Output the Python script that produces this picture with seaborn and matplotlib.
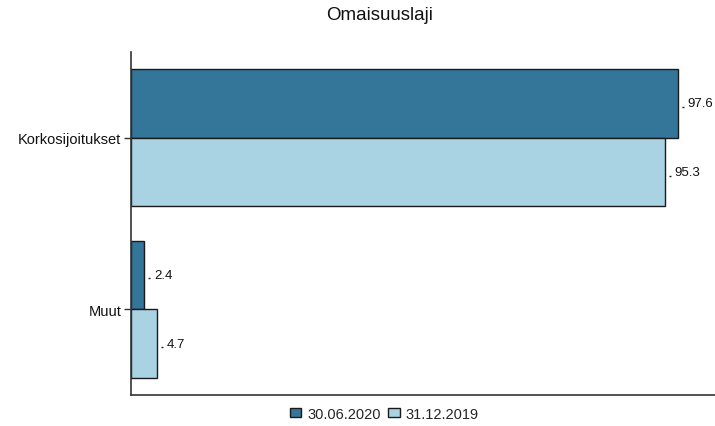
import matplotlib
matplotlib.use("Agg")
import matplotlib.pyplot as plt
import seaborn as sns
import pandas as pd

categories = ["Korkosijoitukset", "Muut"]
series_names = ["30.06.2020", "31.12.2019"]
values_2020 = [97.6, 2.4]
values_2019 = [95.3, 4.7]
title = "Omaisuuslaji"
colors = ["#337699", "#A9D3E3"]

df = pd.DataFrame({
    "cat": categories * 2,
    "series": [series_names[0]] * 2 + [series_names[1]] * 2,
    "value": values_2020 + values_2019,
})

sns.set_theme(style="white")
plt.rcParams["font.family"] = ["Liberation Sans", "DejaVu Sans"]

fig = plt.figure(figsize=(7.15, 4.27), dpi=100)
ax = fig.add_axes([131 / 715, 1 - 396 / 427, (715 - 131) / 715, (396 - 53) / 427])

sns.barplot(data=df, y="cat", x="value", hue="series", orient="h",
            palette=colors, saturation=1, width=0.8, edgecolor="#1a1a1a",
            linewidth=1.0, ax=ax, legend=True)

for cont in ax.containers:
    ax.bar_label(cont, labels=[f"{v:.1f}" for v in cont.datavalues],
                 padding=7, fontsize=9.5, color="#111111")
    for v, rect in zip(cont.datavalues, cont.patches):
        yc = rect.get_y() + rect.get_height() / 2
        ax.annotate("", xy=(v, yc), xytext=(4, 0), textcoords="offset points",
                    xycoords="data")
        ax.plot([v], [yc], marker="_", markersize=2, color="#222222",
                transform=ax.transData + matplotlib.transforms.ScaledTranslation(
                    3.5 / 72, -2.5 / 72, fig.dpi_scale_trans))

ax.set_xlim(0, 104.2)
ax.set_ylim(1.5, -0.5)
ax.set_xlabel("")
ax.set_ylabel("")
ax.set_xticks([])
ax.tick_params(axis="y", left=True, length=5, width=1, color="#333333",
               labelsize=10.5, pad=2, labelcolor="#111111")
for s in ["top", "right"]:
    ax.spines[s].set_visible(False)
for s in ["left", "bottom"]:
    ax.spines[s].set_color("#333333")
    ax.spines[s].set_linewidth(1.2)

handles, labels = ax.get_legend_handles_labels()
ax.get_legend().remove()
fig.legend(handles, labels, loc="center", bbox_to_anchor=(384 / 715, 1 - 415 / 427),
           ncol=2, frameon=False, fontsize=10.5, handlelength=0.8, handleheight=0.6,
           handletextpad=0.4, columnspacing=0.5)

fig.text(380 / 715, 1 - 16 / 427, title, ha="center", va="center", fontsize=13.5,
         color="#111111")

fig.savefig("out.png", dpi=100)
